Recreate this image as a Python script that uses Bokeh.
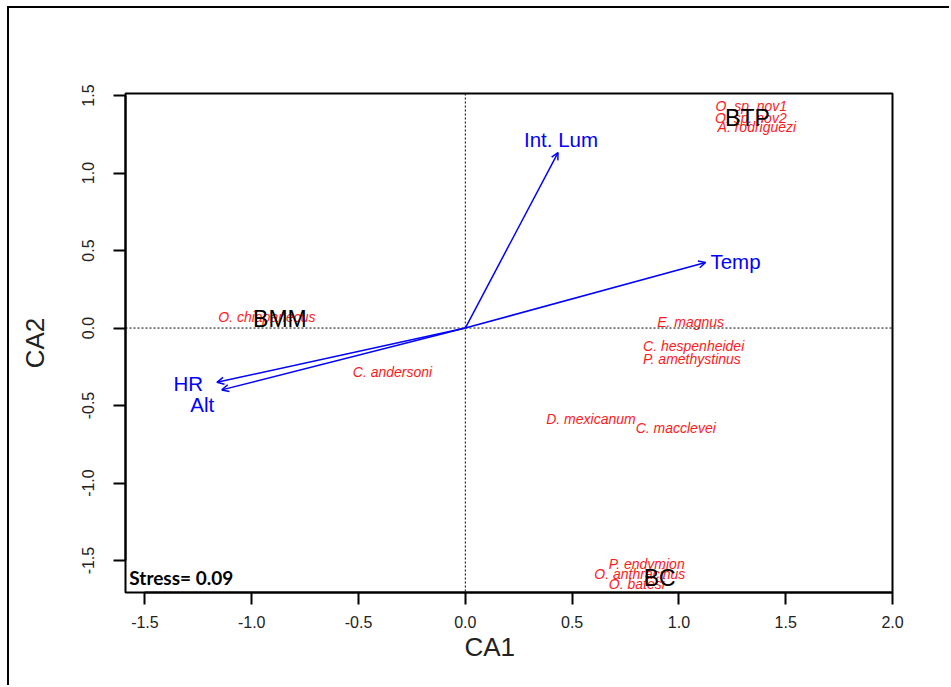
from bokeh.plotting import figure
from bokeh.models import ColumnDataSource, Arrow, OpenHead, Span, Label, FixedTicker, Range1d, PrintfTickFormatter, Title
from bokeh.core.properties import value
from bokeh.embed import file_html
from bokeh.resources import INLINE

# ---- data ----
species = ["O. sp. nov1", "O. sp. nov2", "A. rodriguezi", "O. chiapanecus", "C. andersoni",
           "E. magnus", "C. hespenheidei", "P. amethystinus", "D. mexicanum", "C. macclevei",
           "P. endymion", "O. anthracinus", "O. batesi"]
sp_x = [1.339, 1.337, 1.365, -0.929, -0.341, 1.055, 1.069, 1.061, 0.588, 0.985, 0.849, 0.817, 0.803]
sp_y = [1.435, 1.358, 1.294, 0.068, -0.281, 0.042, -0.113, -0.197, -0.584, -0.648, -1.519, -1.584, -1.648]

groups = ["BTP", "BMM", "BC"]
grp_x = [1.321, -0.868, 0.910]
grp_y = [1.358, 0.061, -1.610]

env_vars = ["Int. Lum", "Temp", "HR", "Alt"]
env_x = [0.434, 1.125, -1.163, -1.140]
env_y = [1.132, 0.423, -0.350, -0.399]
env_lab_x = [0.448, 1.265, -1.297, -1.232]
env_lab_y = [1.216, 0.429, -0.358, -0.494]

x_ticks = [-1.5, -1.0, -0.5, 0.0, 0.5, 1.0, 1.5, 2.0]
y_ticks = [-1.5, -1.0, -0.5, 0.0, 0.5, 1.0, 1.5]
x_title = "CA1"
y_title = "CA2"
stress_text = "Stress= 0.09"
stress_pos = (-1.573, -1.61)

p = figure(width=942, height=679, output_backend="svg", toolbar_location=None,
           x_range=Range1d(-1.591, 2.0), y_range=Range1d(-1.706, 1.513),
           min_border_left=116, min_border_top=85, min_border_right=59, min_border_bottom=95,
           y_axis_label=y_title)
p.styles = {"margin-left": "7px", "margin-top": "6px",
            "border-left": "2px solid black", "border-top": "2px solid black"}

p.grid.visible = False
p.outline_line_color = "black"
p.outline_line_width = 2
p.outline_line_alpha = 1.0

for ax, ticks in ((p.xaxis, x_ticks), (p.yaxis, y_ticks)):
    ax.ticker = FixedTicker(ticks=ticks)
    ax.formatter = PrintfTickFormatter(format="%.1f")
    ax.bounds = (min(ticks), max(ticks))
    ax.minor_tick_line_color = None
    ax.major_tick_in = 0
    ax.major_tick_out = 12
    ax.major_tick_line_width = 2
    ax.major_tick_line_color = "black"
    ax.axis_line_width = 2
    ax.axis_line_color = "black"
    ax.major_label_text_font = "Liberation Sans"
    ax.major_label_text_font_size = "16px"
    ax.major_label_text_color = "#222222"
    ax.axis_label_text_font = "Liberation Sans"
    ax.axis_label_text_font_size = "26px"
    ax.axis_label_text_font_style = "normal"
    ax.axis_label_text_color = "#222222"

p.xaxis.major_label_standoff = 11
p.yaxis.major_label_orientation = "vertical"
p.yaxis.major_label_standoff = 19
p.yaxis.axis_label_standoff = 30

# x axis title, placed where the reference has it (slightly left of centre)
p.add_layout(Title(text=x_title, align="left", offset=339, vertical_align="middle",
                   text_font="Liberation Sans", text_font_size="26px",
                   text_font_style="normal", text_color="#222222", standoff=0), "below")

# reference lines through the origin
p.add_layout(Span(location=0, dimension="width", line_color="black", line_width=1, line_dash="2 2"))
p.add_layout(Span(location=0, dimension="height", line_color="black", line_width=1, line_dash="2 2"))

# environmental arrows
arr_src = ColumnDataSource(dict(x0=[0.0] * len(env_x), y0=[0.0] * len(env_y), x1=env_x, y1=env_y))
p.add_layout(Arrow(end=OpenHead(size=7, line_color="blue", line_width=1.5),
                   x_start="x0", y_start="y0", x_end="x1", y_end="y1",
                   line_color="blue", line_width=1.5, source=arr_src))
p.text(x=env_lab_x, y=env_lab_y, text=env_vars, text_color="blue",
       text_font=value("Liberation Sans"), text_font_size="20.5px",
       text_align="center", text_baseline="middle")

# species labels
p.text(x=sp_x, y=sp_y, text=species, text_color="#ff1a1a",
       text_font=value("Liberation Sans"), text_font_size="14px", text_font_style="italic",
       text_align="center", text_baseline="middle")

# group labels
p.text(x=grp_x, y=grp_y, text=groups, text_color="black",
       text_font=value("Liberation Sans"), text_font_size="23px",
       text_align="center", text_baseline="middle")

p.add_layout(Label(x=stress_pos[0], y=stress_pos[1], text=stress_text,
                   text_font="Lato", text_font_size="19px", text_font_style="bold",
                   text_align="left", text_baseline="middle", text_color="black"))

open("out.html", "w").write(file_html(p, INLINE))
